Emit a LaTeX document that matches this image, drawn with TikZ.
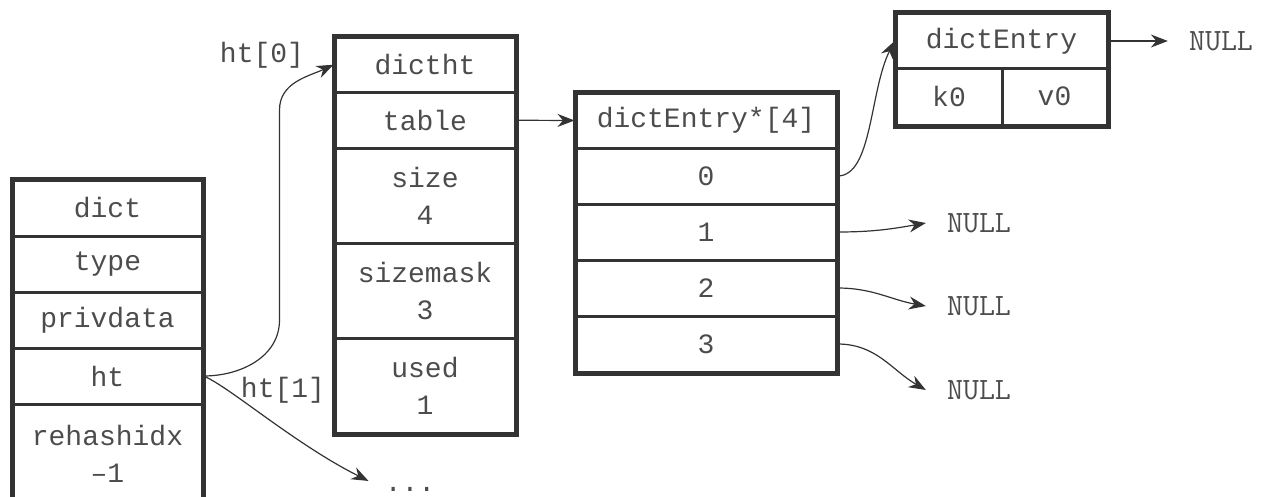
\documentclass[tikz,border=0pt]{standalone}
\usepackage{fontspec}
\usepackage{tikz}
\usetikzlibrary{arrows.meta}
\newfontfamily\codefont{Liberation Mono}
\colorlet{boxline}{black!80}
\colorlet{boxtext}{black!70}
\tikzstyle{myarr}=[-{Stealth[length=17,width=13]},boxline,line width=1.2]
\tikzstyle{cell}=[draw=boxline,line width=3,inner sep=0,text=boxtext,align=center,font=\codefont\fontsize{28}{37}\selectfont]
\tikzstyle{outerbox}=[draw=boxline,line width=4]
\tikzstyle{ptrtext}=[inner sep=0,text=boxtext,font=\codefont\fontsize{28}{28}\selectfont]
\tikzstyle{nulltext}=[inner xsep=21,inner ysep=0,text=boxtext,font=\ttfamily\fontsize{31}{31}\selectfont]

\begin{document}
\begin{tikzpicture}[x=1pt,y=-1pt]
	\useasboundingbox (0,0) rectangle (1262,496);
	
	\def\dictx{107.5}  % dict column
	\def\htx{425}      % dictht column
	\def\tabx{706}     % table column
	\def\nullx{979}    % NULL column
	
	% DICT
	\foreach \n [count=\k from 0] in {dict,type,privdata,ht}
	\node[cell,minimum width=189,minimum height=56] (\n) at (\dictx,208+56*\k) {\n};
	\node[cell,minimum width=189,minimum height=100] (rehashidx) at (\dictx,454) {rehashidx\\\textendash1};
	\draw[outerbox] (dict.north west) rectangle (rehashidx.south east);
	
	% DICTHT
	\node[cell,minimum width=180,minimum height=55.5] (dictht) at (\htx,64.75) {dictht};
	\node[cell,minimum width=180,minimum height=55.5] (table) at (\htx,120.25) {table};
	\node[cell,minimum width=180,minimum height=95] (size) at (\htx,195.5) {size\\4};
	\node[cell,minimum width=180,minimum height=95] (sizemask) at (\htx,290.5) {sizemask\\3};
	\node[cell,minimum width=180,minimum height=95] (used) at (\htx,385.5) {used\\1};
	\draw[outerbox] (dictht.north west) rectangle (used.south east);
	
	% TABLE
	\node[cell,minimum width=260,minimum height=55] (tabhead) at (\tabx,120.5) {dictEntry*[4]};
	\foreach \i in {0,...,3}
	\node[cell,minimum width=260,minimum height=56] (slot\i) at (\tabx,176+56*\i) {\i};
	\draw[outerbox] (tabhead.north west) rectangle (slot3.south east);
	
	% ENTRY
	\node[cell,minimum width=211,minimum height=55] (entry) at (1001.5,41) {dictEntry};
	\node[cell,minimum width=106,minimum height=56.5] (k0) at (949,96.75) {k0};
	\node[cell,minimum width=105,minimum height=56.5] (v0) at (1054.5,96.75) {v0};
	\draw[outerbox] (entry.north west) rectangle (v0.south east);
	
	% TEXTS
	\node[ptrtext] (ht0) at (262,55) {ht[0]};
	\node[ptrtext] (ht1) at (283,390) {ht[1]};
	\node[ptrtext] (dots) at (410,489) {...};
	\node[nulltext] (null0) at (1221,41) {NULL};
	\node[nulltext] (null1) at (\nullx,223) {NULL};
	\node[nulltext] (null2) at (\nullx,306) {NULL};
	\node[nulltext] (null3) at (\nullx,390) {NULL};
	
	% ARROWS
	\draw[myarr] (ht.east) to[out=0,in=-90] ++(76,-56) -- ++(0,-210) to[out=90,in=205] (dictht.west);
	\draw[myarr,shorten >=18] (ht.east) .. controls +(25,10) and +(-90,-45) .. (dots.west);
	\draw[myarr] (table.east) -- (tabhead.west);
	\draw[myarr] (slot0.east) .. controls +(35,0) and +(-25,50) .. (entry.west);
	\draw[myarr] (entry.east) -- (null0.west);
	\foreach \i/\ang in {1/190,2/170,3/150}
	\draw[myarr] (slot\i.east) to[out=0,in=\ang] (null\i.west);
	
\end{tikzpicture}
\end{document}
